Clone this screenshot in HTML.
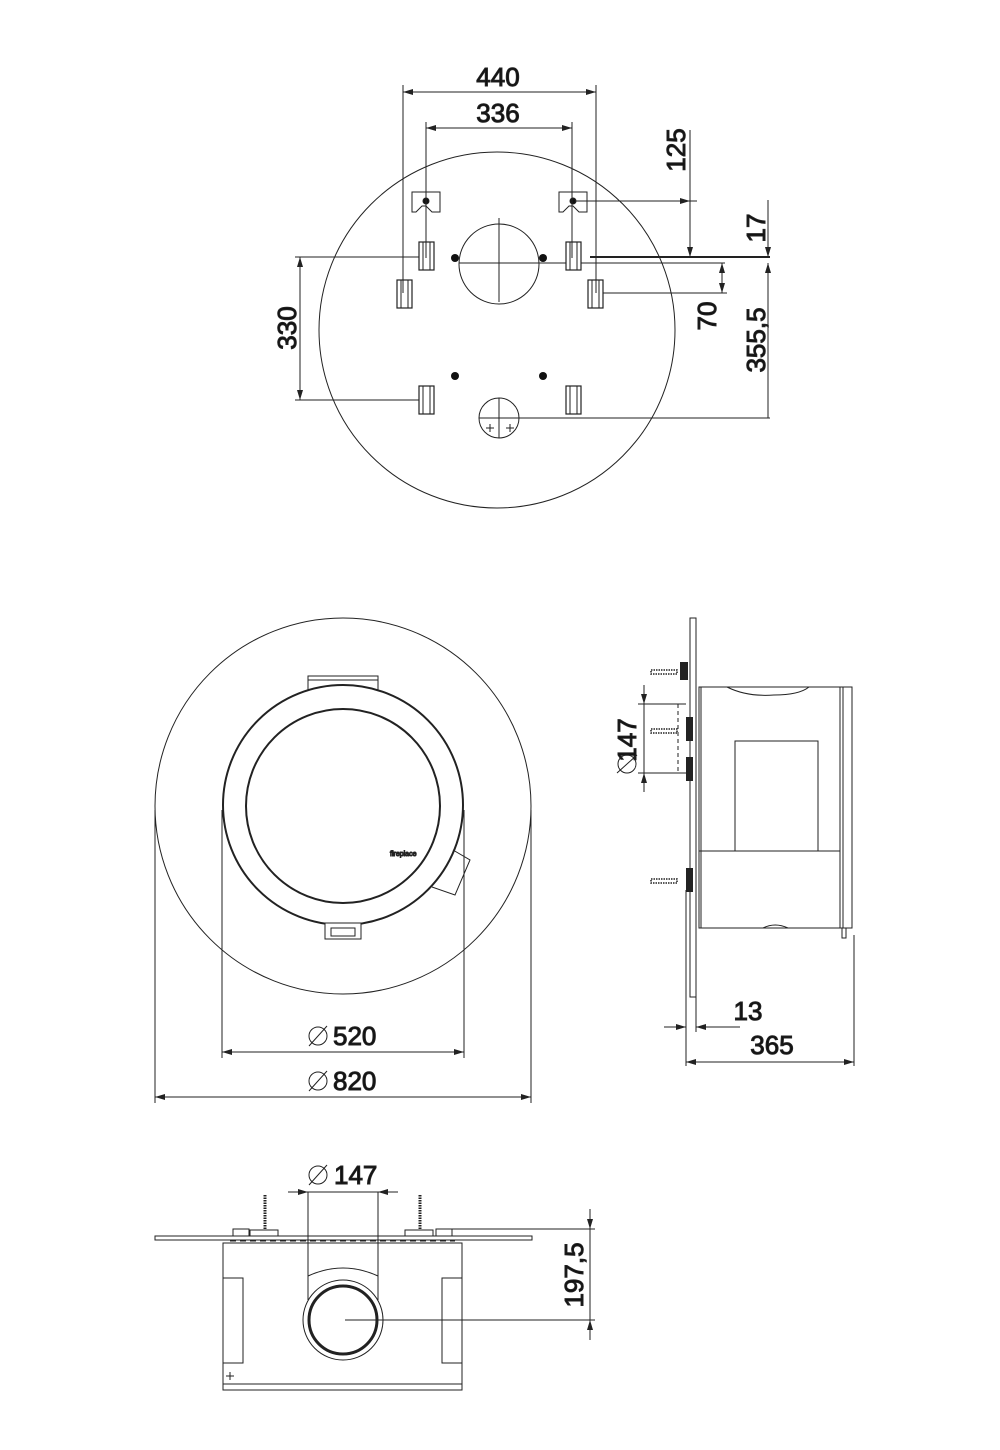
<!DOCTYPE html>
<html><head><meta charset="utf-8"><style>html,body{margin:0;padding:0;background:#fff}svg{display:block}text{font-family:"Liberation Sans",sans-serif;font-size:26px;fill:#111}</style></head><body>
<svg width="1000" height="1450" viewBox="0 0 1000 1450" xmlns="http://www.w3.org/2000/svg" fill="none" stroke="#222" stroke-width="1">
<defs><marker id="a" viewBox="0 0 10 6" refX="10" refY="3" markerWidth="10" markerHeight="6" orient="auto-start-reverse"><path d="M0,0L10,3L0,6z" fill="#222" stroke="none"/></marker></defs>
<!-- TOP VIEW -->
<circle cx="497" cy="330" r="178"/>
<circle cx="499" cy="264" r="40"/>
<line x1="499" y1="218" x2="499" y2="302"/>
<line x1="459" y1="263" x2="725" y2="263"/>
<line x1="590" y1="257" x2="770" y2="257" stroke-width="2"/>
<circle cx="499" cy="418" r="20"/>
<line x1="499" y1="398" x2="499" y2="438"/>
<line x1="479" y1="418" x2="770" y2="418"/>
<path d="M486,428h8M490,424v8M506,428h8M510,424v8"/>
<g fill="#111" stroke="none"><circle cx="455" cy="258" r="4"/><circle cx="543" cy="258" r="4"/><circle cx="455" cy="376" r="4"/><circle cx="543" cy="376" r="4"/></g>
<path d="M412,192h28v20h-8l-6,-6h-4l-6,6h-4z"/><circle cx="426" cy="201" r="3" fill="#111"/>
<path d="M559,192h28v20h-8l-6,-6h-4l-6,6h-4z"/><circle cx="573" cy="201" r="3" fill="#111"/>
<g fill="#fff" stroke-width="1.2">
<rect x="419" y="242" width="15" height="28"/><rect x="566" y="242" width="15" height="28"/>
<rect x="397" y="280" width="15" height="28"/><rect x="588" y="280" width="15" height="28"/>
<rect x="419" y="386" width="15" height="28"/><rect x="566" y="386" width="15" height="28"/>
</g>
<path d="M423,242v28M430,242v28M570,242v28M577,242v28M401,280v28M408,280v28M592,280v28M599,280v28M423,386v28M430,386v28M570,386v28M577,386v28"/>
<!-- top dims -->
<line x1="403" y1="85" x2="403" y2="293"/><line x1="596" y1="85" x2="596" y2="293"/>
<line x1="426" y1="122" x2="426" y2="258"/><line x1="572" y1="122" x2="572" y2="258"/>
<line x1="403" y1="92" x2="596" y2="92" marker-start="url(#a)" marker-end="url(#a)"/>
<line x1="426" y1="128" x2="572" y2="128" marker-start="url(#a)" marker-end="url(#a)"/>
<text x="498" y="86" text-anchor="middle">440</text>
<text x="498" y="122" text-anchor="middle">336</text>
<line x1="575" y1="201" x2="697" y2="201"/>
<line x1="690" y1="130" x2="690" y2="257" marker-end="url(#a)"/>
<line x1="690" y1="201" x2="690" y2="201" marker-end="url(#a)"/>
<text transform="translate(685,150) rotate(-90)" text-anchor="middle">125</text>
<line x1="768" y1="200" x2="768" y2="257" marker-end="url(#a)"/>
<line x1="768" y1="418" x2="768" y2="263" marker-end="url(#a)"/>
<text transform="translate(765,228) rotate(-90)" text-anchor="middle">17</text>
<text transform="translate(765,340) rotate(-90)" text-anchor="middle">355,5</text>
<line x1="603" y1="293" x2="727" y2="293"/>
<line x1="722" y1="263" x2="722" y2="293" marker-start="url(#a)" marker-end="url(#a)"/>
<text transform="translate(716,316) rotate(-90)" text-anchor="middle">70</text>
<line x1="295" y1="257" x2="419" y2="257"/><line x1="295" y1="400" x2="419" y2="400"/>
<line x1="300" y1="257" x2="300" y2="400" marker-start="url(#a)" marker-end="url(#a)"/>
<text transform="translate(296,328) rotate(-90)" text-anchor="middle">330</text>
<!-- FRONT VIEW -->
<circle cx="343" cy="806" r="188"/>
<rect x="308" y="676" width="70" height="14"/><line x1="308" y1="680" x2="378" y2="680"/>
<circle cx="343" cy="805" r="120" fill="#fff" stroke-width="2"/>
<circle cx="343" cy="806" r="97" stroke-width="2"/>
<rect x="325" y="923" width="36" height="16" fill="#fff"/><rect x="331" y="928" width="24" height="8"/>
<path d="M453,850l17,10l-15,35l-23,-8"/>
<text x="390" y="856" style="font-size:7px">fireplace</text>
<line x1="155" y1="810" x2="155" y2="1103"/><line x1="531" y1="810" x2="531" y2="1103"/>
<line x1="222" y1="810" x2="222" y2="1058"/><line x1="464" y1="810" x2="464" y2="1058"/>
<line x1="222" y1="1052" x2="464" y2="1052" marker-start="url(#a)" marker-end="url(#a)"/>
<line x1="155" y1="1097" x2="531" y2="1097" marker-start="url(#a)" marker-end="url(#a)"/>
<circle cx="318" cy="1036" r="9"/><line x1="309" y1="1046" x2="327" y2="1026"/>
<text x="333" y="1045">520</text>
<circle cx="318" cy="1081" r="9"/><line x1="309" y1="1091" x2="327" y2="1071"/>
<text x="333" y="1090">820</text>
<!-- SIDE VIEW -->
<rect x="690" y="618" width="6" height="379" fill="#fff"/>
<rect x="699" y="687" width="153" height="241"/>
<line x1="701" y1="687" x2="701" y2="928"/>
<line x1="840" y1="687" x2="840" y2="928"/><line x1="843" y1="687" x2="843" y2="928"/>
<rect x="735" y="741" width="83" height="110"/>
<line x1="699" y1="851" x2="840" y2="851"/>
<path d="M727,687q20,10 47,8q25,0 35,-8M763,928q12,-6 25,0"/>
<path d="M842,928v10h4v-10"/>
<g stroke-dasharray="1.5,1" stroke-width="1.5">
<rect x="651" y="670" width="26" height="4"/><rect x="651" y="729" width="26" height="4"/><rect x="651" y="879" width="26" height="4"/>
</g>
<g fill="#222" stroke="none">
<rect x="680" y="662" width="8" height="18"/><rect x="686" y="717" width="7" height="24"/><rect x="686" y="757" width="7" height="24"/><rect x="686" y="868" width="7" height="24"/>
</g>
<line x1="638" y1="704" x2="686" y2="704"/><line x1="638" y1="773" x2="686" y2="773"/>
<line x1="678" y1="704" x2="678" y2="773" stroke-dasharray="4,3"/>
<line x1="644" y1="685" x2="644" y2="704" marker-end="url(#a)"/>
<line x1="644" y1="792" x2="644" y2="773" marker-end="url(#a)"/>
<line x1="644" y1="704" x2="644" y2="773"/>
<text transform="translate(636,740) rotate(-90)" text-anchor="middle">147</text>
<circle cx="627" cy="764" r="9"/><line x1="617" y1="773" x2="637" y2="755"/>
<line x1="686" y1="890" x2="686" y2="1066"/><line x1="696" y1="997" x2="696" y2="1032"/>
<line x1="854" y1="935" x2="854" y2="1066"/>
<line x1="664" y1="1027" x2="686" y2="1027" marker-end="url(#a)"/>
<line x1="740" y1="1027" x2="696" y2="1027" marker-end="url(#a)"/>
<text x="748" y="1020" text-anchor="middle">13</text>
<line x1="686" y1="1062" x2="854" y2="1062" marker-start="url(#a)" marker-end="url(#a)"/>
<text x="772" y="1054" text-anchor="middle">365</text>
<!-- BOTTOM VIEW -->
<rect x="155" y="1236" width="377" height="4"/>
<rect x="223" y="1243" width="239" height="147"/>
<line x1="223" y1="1384" x2="462" y2="1384"/>
<rect x="223" y="1278" width="20" height="85"/><rect x="442" y="1278" width="20" height="85"/>
<rect x="233" y="1229" width="16" height="7"/><rect x="250" y="1230" width="28" height="6"/>
<rect x="405" y="1230" width="28" height="6"/><rect x="436" y="1229" width="16" height="7"/>
<line x1="265" y1="1195" x2="265" y2="1230" stroke-width="3" stroke-dasharray="1.5,1"/><line x1="420" y1="1195" x2="420" y2="1230" stroke-width="3" stroke-dasharray="1.5,1"/>
<line x1="230" y1="1241" x2="455" y2="1241" stroke-dasharray="6,4"/>
<path d="M308,1300v-24q35,-16 70,0v24"/>
<circle cx="343" cy="1320" r="40" fill="#fff"/>
<circle cx="343" cy="1320" r="34" stroke-width="3"/>
<line x1="308" y1="1192" x2="308" y2="1276"/><line x1="378" y1="1192" x2="378" y2="1276"/>
<line x1="288" y1="1192" x2="308" y2="1192" marker-end="url(#a)"/>
<line x1="398" y1="1192" x2="378" y2="1192" marker-end="url(#a)"/>
<line x1="308" y1="1192" x2="378" y2="1192"/>
<circle cx="318" cy="1175" r="9"/><line x1="309" y1="1185" x2="327" y2="1165"/>
<text x="334" y="1184">147</text>
<line x1="440" y1="1229" x2="595" y2="1229"/>
<line x1="345" y1="1320" x2="595" y2="1320"/>
<line x1="590" y1="1209" x2="590" y2="1229" marker-end="url(#a)"/>
<line x1="590" y1="1340" x2="590" y2="1320" marker-end="url(#a)"/>
<line x1="590" y1="1229" x2="590" y2="1320"/>
<text transform="translate(583,1275) rotate(-90)" text-anchor="middle">197,5</text>
<path d="M226,1376h8M230,1372v8"/>
</svg>
</body></html>
